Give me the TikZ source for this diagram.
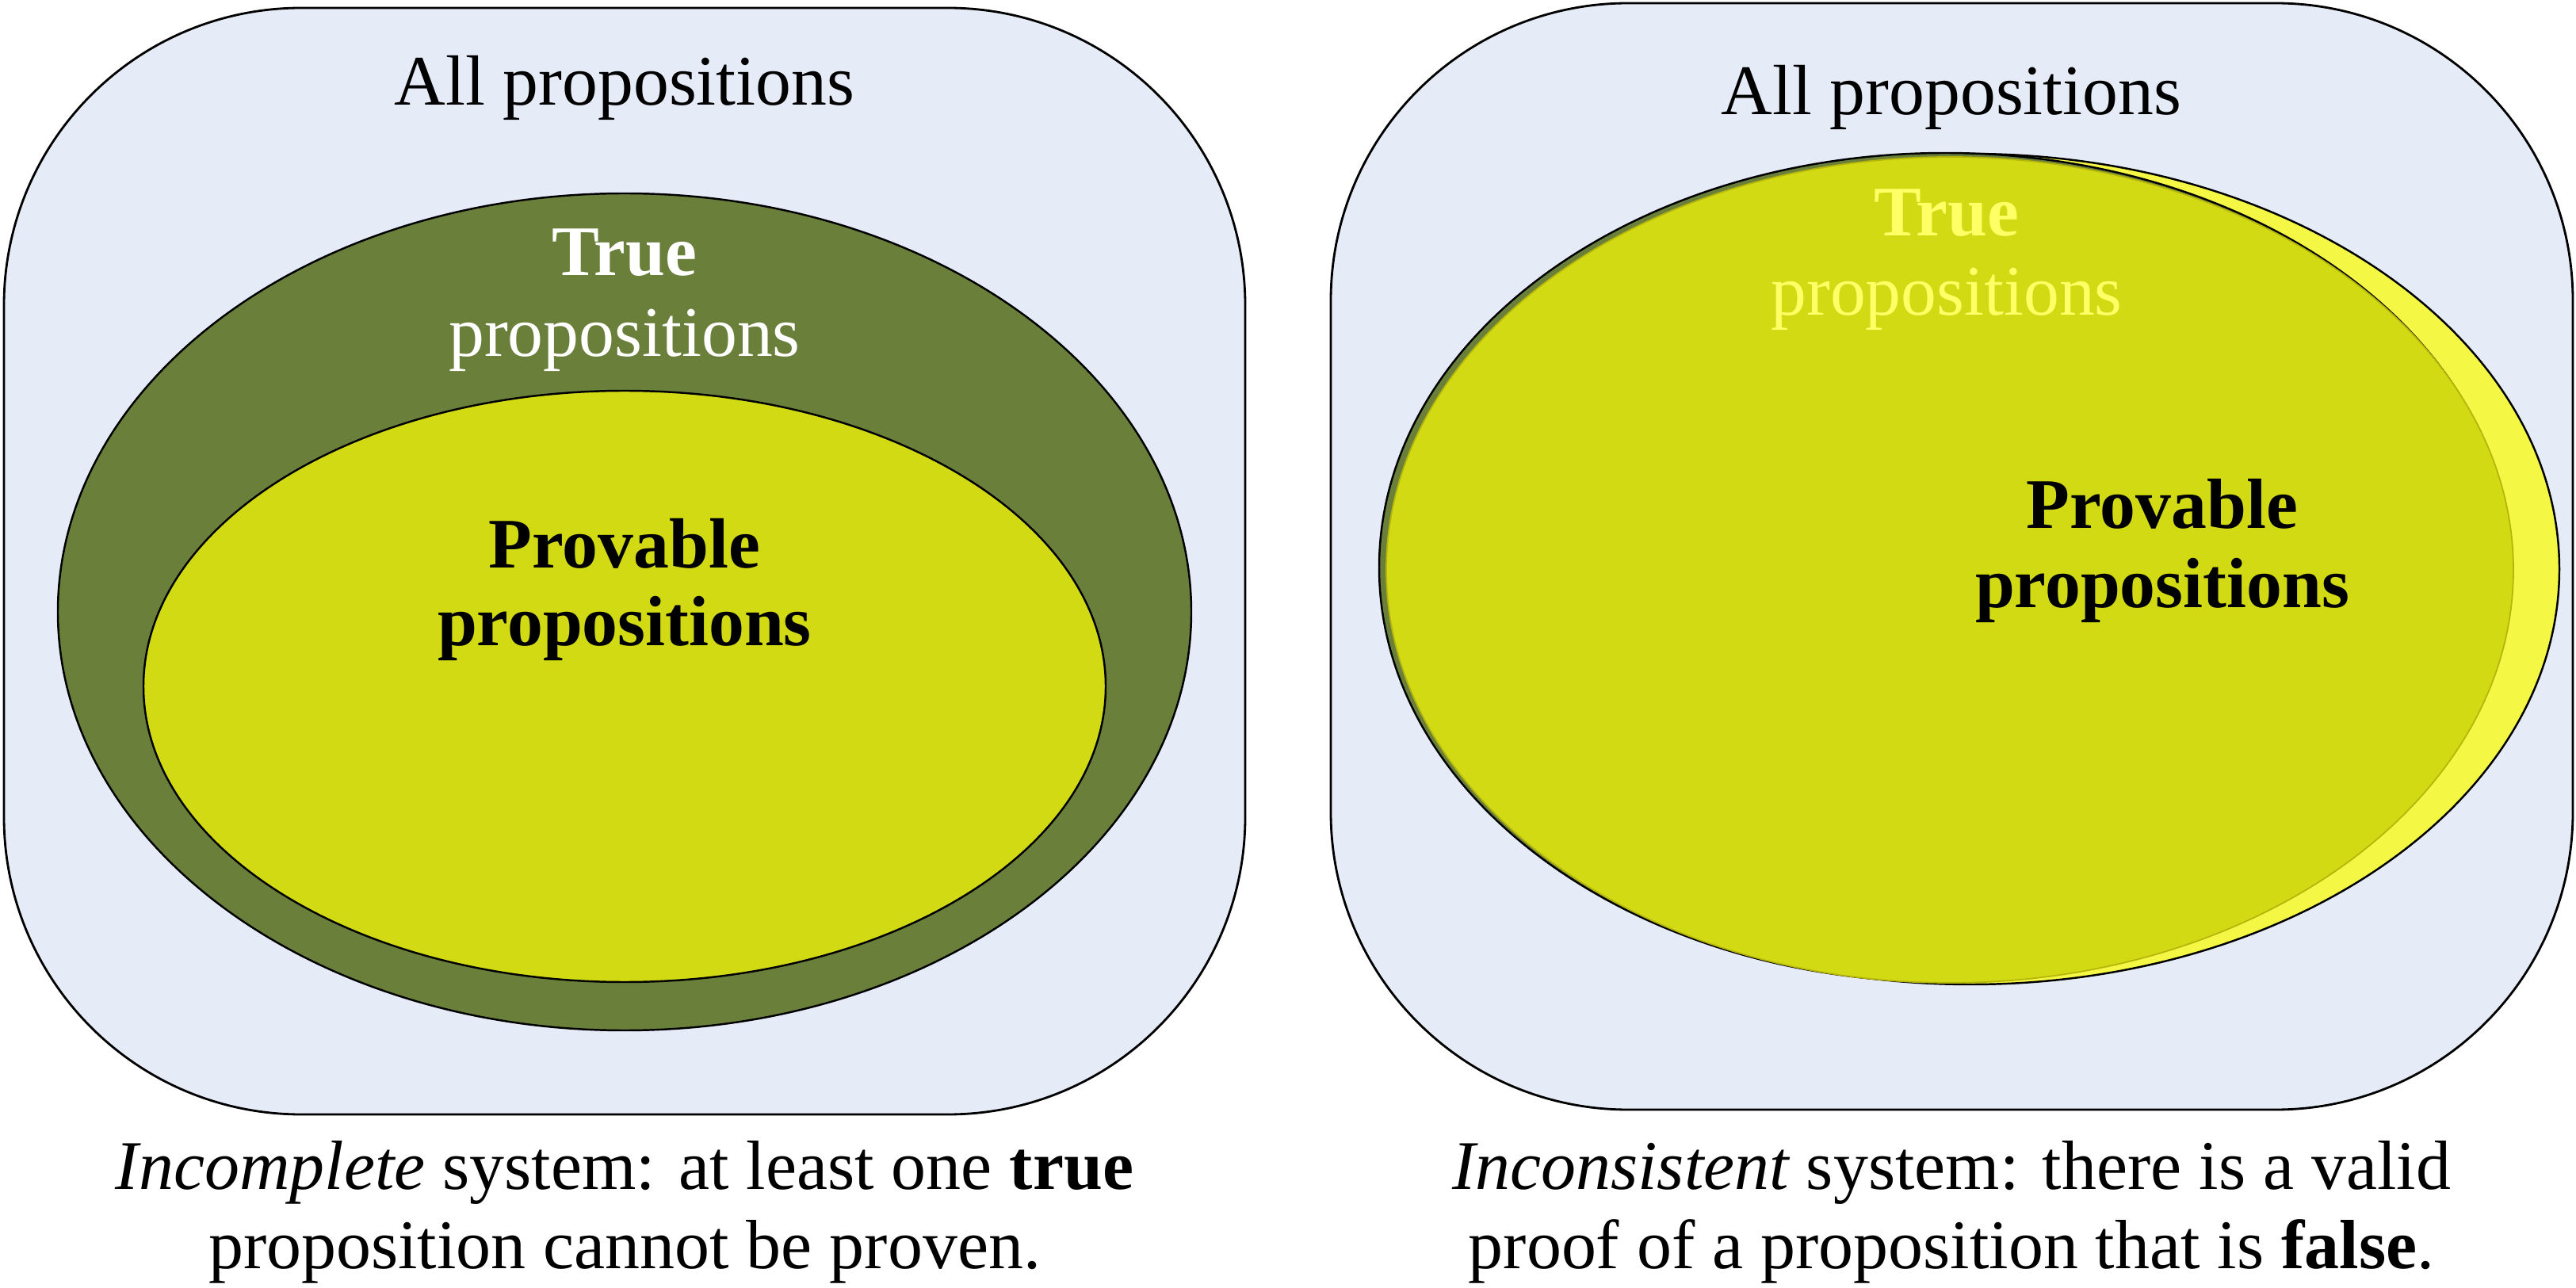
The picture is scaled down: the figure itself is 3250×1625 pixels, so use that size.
\documentclass[tikz,border=0pt]{standalone}
\usepackage{fontspec}
\setmainfont{Liberation Serif}
\definecolor{panelblue}{HTML}{E6ECF7}
\definecolor{truegreen}{HTML}{6A803A}
\definecolor{provyellow}{HTML}{D1DA12}
\definecolor{brightyellow}{HTML}{F5F745}
\definecolor{trueyellowtext}{HTML}{FFFF66}
\definecolor{provedge}{HTML}{B5B50A}
\tikzset{
  panel/.style={draw=black, line width=0.8pt, fill=panelblue},
  setline/.style={draw=black, line width=0.7pt},
  lbl/.style={inner sep=0pt, anchor=base, font=\fontsize{25.5}{30}\selectfont},
  captiontext/.style={inner sep=0pt, anchor=base, font=\fontsize{25}{30}\selectfont},
}
\begin{document}
\begin{tikzpicture}[x=0.01cm,y=-0.01cm]
\useasboundingbox (0,0) rectangle (3250,1625);
% left panel
\draw[panel, rounded corners=3.75cm] (5,10) rectangle (1571,1406);
\draw[setline, fill=truegreen] (788,772) ellipse [x radius=715, y radius=528];
\draw[setline, fill=provyellow] (788,866) ellipse [x radius=607, y radius=373];
\node[lbl] (allL) at (788,133) {All propositions};
\node[lbl, text=white] (trueL1) at (788,348) {\bfseries True};
\node[lbl, text=white] (trueL2) at (788,450) {propositions};
\node[lbl] (provL1) at (788,717) {\bfseries Provable};
\node[lbl] (provL2) at (788,815) {\bfseries propositions};
\node[captiontext] (capL1) at (788,1500) {\itshape Incomplete\upshape{} system: at least one \textbf{true}};
\node[captiontext] (capL2) at (788,1600) {proposition cannot be proven.};
% right panel
\draw[panel, rounded corners=3.75cm] (1679,4) rectangle (3246,1400);
\draw[setline, fill=brightyellow] (2486,718) ellipse [x radius=743, y radius=524];
\draw[setline, fill=truegreen] (2454,716) ellipse [x radius=714, y radius=523];
\draw[draw=provedge, line width=0.5pt, fill=provyellow] (2460,719) ellipse [x radius=711, y radius=521];
\node[lbl] (allR) at (2462,145) {All propositions};
\node[lbl, text=trueyellowtext] (trueR1) at (2456,298) {\bfseries True};
\node[lbl, text=trueyellowtext] (trueR2) at (2456,398) {propositions};
\node[lbl] (provR1) at (2728,667) {\bfseries Provable};
\node[lbl] (provR2) at (2728,767) {\bfseries propositions};
\node[captiontext] (capR1) at (2462,1500) {\itshape Inconsistent\upshape{} system: there is a valid};
\node[captiontext] (capR2) at (2462,1600) {proof of a proposition that is \textbf{false}.};
\end{tikzpicture}
\end{document}
